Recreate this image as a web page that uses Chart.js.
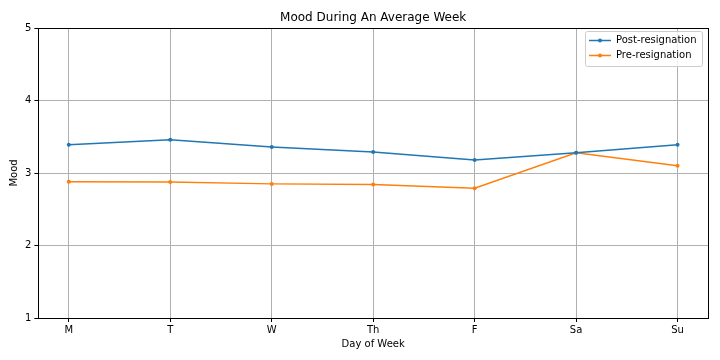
<!DOCTYPE html>
<html lang="en">
<head>
  <meta charset="UTF-8">
  <title>Mood During An Average Week</title>
  <script src="https://cdn.jsdelivr.net/npm/chart.js"></script>
  <style>
    html, body { margin: 0; padding: 0; background: #fff; }
    #wrap { width: 720px; height: 360px; }
  </style>
</head>
<body>
  <div id="wrap"><canvas id="myChart" width="720" height="360"></canvas></div>

  <script>
    // data
    const days = ['M', 'T', 'W', 'Th', 'F', 'Sa', 'Su'];
    const postResignation = [3.39, 3.46, 3.36, 3.29, 3.18, 3.28, 3.39];
    const preResignation = [2.88, 2.875, 2.85, 2.84, 2.79, 3.28, 3.10];
    const yTicks = [1, 2, 3, 4, 5];
    const chartTitle = 'Mood During An Average Week';

    const font = 'DejaVu Sans';
    Chart.defaults.font.family = font;
    Chart.defaults.color = '#000';

    const toPoints = arr => arr.map((v, i) => ({ x: i, y: v }));

    // matplotlib style frame, title over axes, legend inside axes
    const framePlugin = {
      id: 'frame',
      afterDraw(chart) {
        const { ctx, chartArea: a } = chart;
        ctx.save();
        ctx.strokeStyle = '#000';
        ctx.lineWidth = 1;
        ctx.strokeRect(Math.round(a.left) + 0.5, Math.round(a.top) + 0.5,
          Math.round(a.right - a.left), Math.round(a.bottom - a.top));

        // title
        ctx.fillStyle = '#000';
        ctx.font = '12px ' + font;
        ctx.textAlign = 'center';
        ctx.textBaseline = 'alphabetic';
        ctx.fillText(chartTitle, (a.left + a.right) / 2, a.top - 7);
        ctx.textAlign = 'left';

        // legend box
        const bx = a.right - 123, by = a.top + 3, bw = 117, bh = 35;
        ctx.fillStyle = 'rgba(255,255,255,0.8)';
        ctx.strokeStyle = '#cccccc';
        ctx.beginPath();
        ctx.roundRect(bx + 0.5, by + 0.5, bw, bh, 2);
        ctx.fill();
        ctx.stroke();
        chart.data.datasets.forEach((ds, i) => {
          const y = by + 9.5 + i * 15;
          ctx.strokeStyle = ds.borderColor;
          ctx.lineWidth = 1.5;
          ctx.beginPath();
          ctx.moveTo(bx + 4, y);
          ctx.lineTo(bx + 26, y);
          ctx.stroke();
          ctx.fillStyle = ds.borderColor;
          ctx.beginPath();
          ctx.arc(bx + 15, y, 2, 0, Math.PI * 2);
          ctx.fill();
          ctx.fillStyle = '#000';
          ctx.font = '10px ' + font;
          ctx.textBaseline = 'middle';
          ctx.fillText(ds.label, bx + 31, y);
        });
        ctx.restore();
      }
    };

    const ctx = document.getElementById('myChart').getContext('2d');
    new Chart(ctx, {
      type: 'line',
      data: {
        datasets: [
          {
            label: 'Post-resignation',
            data: toPoints(postResignation),
            borderColor: '#1f77b4',
            backgroundColor: '#1f77b4',
            borderWidth: 1.5,
            pointRadius: 2,
            pointBorderWidth: 0,
            tension: 0,
          },
          {
            label: 'Pre-resignation',
            data: toPoints(preResignation),
            borderColor: '#ff7f0e',
            backgroundColor: '#ff7f0e',
            borderWidth: 1.5,
            pointRadius: 2,
            pointBorderWidth: 0,
            tension: 0,
          },
        ],
      },
      options: {
        responsive: false,
        animation: false,
        layout: { padding: { left: 4, right: 12, top: 28, bottom: 6 } },
        plugins: {
          legend: { display: false },
          tooltip: { enabled: false },
          title: { display: false },
        },
        scales: {
          x: {
            type: 'linear',
            min: -0.3,
            max: 6.3,
            afterBuildTicks: axis => { axis.ticks = days.map((d, i) => ({ value: i })); },
            ticks: {
              callback: v => days[v],
              font: { size: 10 },
              padding: 2,
              maxRotation: 0,
            },
            grid: { color: '#b0b0b0', tickColor: '#000', tickLength: 4 },
            border: { display: false },
            title: { display: true, text: 'Day of Week', font: { size: 10 }, padding: { top: 0 } },
          },
          y: {
            min: 1,
            max: 5,
            afterBuildTicks: axis => { axis.ticks = yTicks.map(v => ({ value: v })); },
            ticks: { font: { size: 10 }, padding: 3 },
            grid: { color: '#b0b0b0', tickColor: '#000', tickLength: 4 },
            border: { display: false },
            title: { display: true, text: 'Mood', font: { size: 10 }, padding: { bottom: 2 } },
          },
        },
      },
      plugins: [framePlugin],
    });
  </script>
</body>
</html>
